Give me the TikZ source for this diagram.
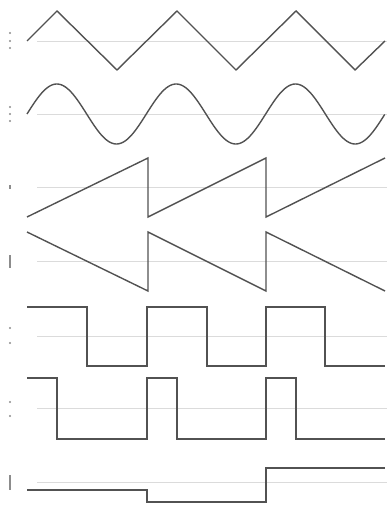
\documentclass[tikz,border=0pt]{standalone}
\begin{document}
\begin{tikzpicture}[x=1pt,y=-1pt,
  wave/.style={draw=black!68, line width=1.4pt, line join=miter},
  base/.style={draw=black!14, line width=0.7pt},
  tickmark/.style={fill=black!45, draw=none}]
\useasboundingbox (0,0) rectangle (387,510);
% baselines
\foreach \yy in {41,114,187,261,336,408,482}
  \draw[base] (37,\yy) -- (387,\yy);
% small labels at left
\foreach \yy in {33,41,48,107,114,121,328,343,402,416}
  \fill[tickmark] (10,\yy) circle (1.1);
\fill[tickmark] (9.2,185) rectangle (11,189);
\fill[tickmark] (9.2,255) rectangle (11,268);
\fill[tickmark] (9.2,475) rectangle (11,490);
% triangle
\draw[wave] (27,41) -- (57,11) -- (117,70) -- (177,11) -- (236,70) -- (296,11) -- (355,70) -- (385,41);
% sine
\draw[wave] plot[domain=0:3, samples=240, smooth] ({27+119.33*\x}, {114-30*sin(360*\x)});
% rising sawtooth
\draw[wave] (27,217) -- (148,158) -- (148,217) -- (266,158) -- (266,217) -- (385,158);
% falling sawtooth
\draw[wave] (27,232) -- (148,291) -- (148,232) -- (266,291) -- (266,232) -- (385,291);
% square
\draw[wave] (27,307) -- (87,307) -- (87,366) -- (147,366) -- (147,307) -- (207,307) -- (207,366) -- (266,366) -- (266,307) -- (325,307) -- (325,366) -- (385,366);
% pulse
\draw[wave] (27,378) -- (57,378) -- (57,439) -- (147,439) -- (147,378) -- (177,378) -- (177,439) -- (266,439) -- (266,378) -- (296,378) -- (296,439) -- (385,439);
% step
\draw[wave] (27,490) -- (147,490) -- (147,502) -- (266,502) -- (266,468) -- (385,468);
\end{tikzpicture}
\end{document}
